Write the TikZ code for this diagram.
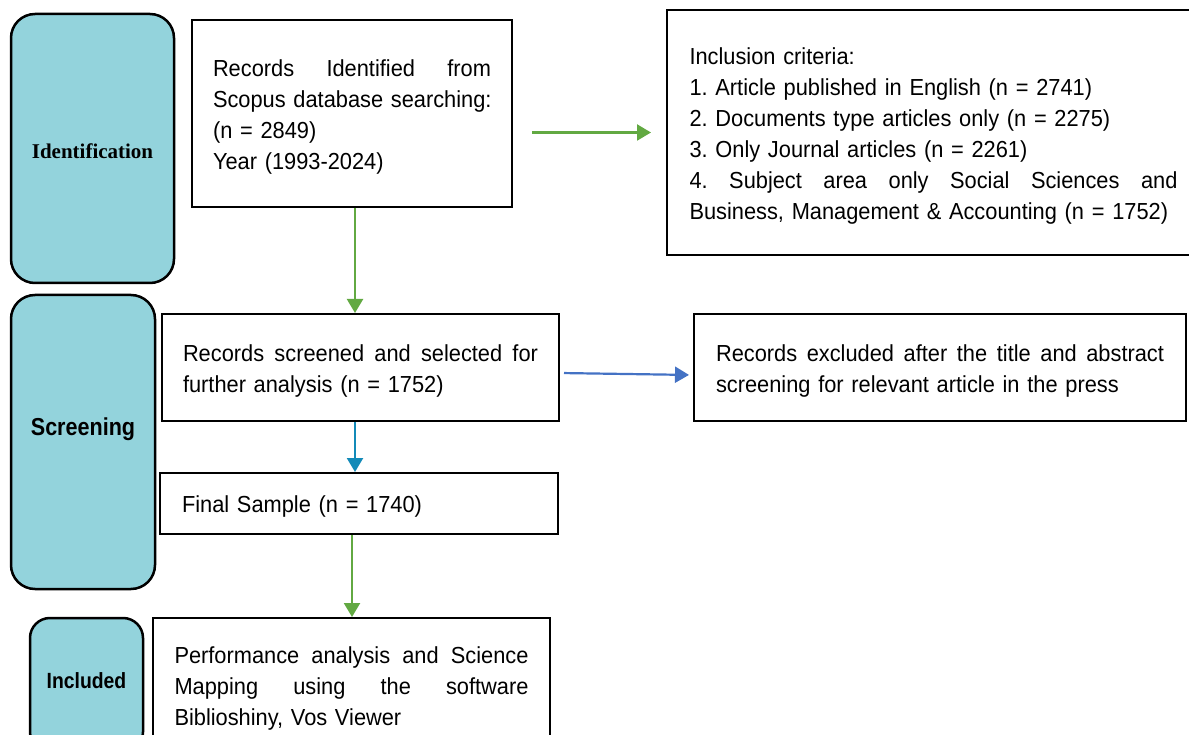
\documentclass[tikz,border=0pt]{standalone}
\usepackage{fontspec}
\setmainfont{Liberation Sans}[FakeStretch=0.94]
\newfontfamily\labelsans{Liberation Sans}[FakeStretch=0.88]
\newfontfamily\labelserif{Liberation Serif}
\usetikzlibrary{arrows.meta,calc}
\definecolor{tealfill}{HTML}{93D3DC}
\definecolor{arrgreen}{HTML}{62A942}
\definecolor{arrblue}{HTML}{4472C4}
\definecolor{arrteal}{HTML}{138AB8}
\newcommand{\jl}[2]{\leavevmode\hbox to #1{#2}}
\newcommand{\tstrut}{\rule{0pt}{23pt}}
\frenchspacing
\begin{document}
\begin{tikzpicture}[x=1pt,y=-1pt,
  txtbox/.style={draw=black, line width=2pt, fill=white, inner sep=0pt, align=left,
    font=\frenchspacing\fontsize{23.2}{31}\selectfont},
  stagebox/.style={draw=black, line width=2.5pt, fill=tealfill, rounded corners=24pt, inner sep=0pt},
  conn/.style={line width=2.2pt, -{Triangle[length=14pt,width=16pt]}},
  garrow/.style={conn, draw=arrgreen, fill=arrgreen},
  barrow/.style={conn, draw=arrblue, fill=arrblue},
  tarrow/.style={conn, draw=arrteal, fill=arrteal}]
\useasboundingbox (0,0) rectangle (1189,735);

% stage boxes
\node[stagebox, minimum width=163pt, minimum height=269pt] (idl) at (92.5,148.5) {};
\node[font=\labelserif\bfseries\fontsize{21}{24}\selectfont] (idltxt) at (92.5,151) {Identification};
\node[stagebox, minimum width=144pt, minimum height=294pt] (scl) at (83,442) {};
\node[font=\labelsans\bfseries\fontsize{24.5}{28}\selectfont] (scltxt) at (83,429) {Screening};
\node[stagebox, rounded corners=20pt, minimum width=113pt, minimum height=134pt] (inl) at (86.5,685) {};
\node[font=\labelsans\bfseries\fontsize{22}{26}\selectfont] (inltxt) at (86.5,681) {Included};

% text boxes
\node[txtbox, minimum width=320pt, minimum height=187pt, text width=278pt] (ri) at (352,113.5)
  {\tstrut\jl{278pt}{Records\hfill Identified\hfill from}\\ \mbox{Scopus database searching:}\\ (n = 2849)\\ Year (1993-2024)};
\node[txtbox, minimum width=533pt, minimum height=245pt, text width=488pt] (inc) at (933.5,132.5)
  {\tstrut Inclusion criteria:\\ \mbox{1. Article published in English (n = 2741)}\\ \mbox{2. Documents type articles only (n = 2275)}\\ \mbox{3. Only Journal articles (n = 2261)}\\ \jl{488pt}{4.\hfill Subject\hfill area\hfill only\hfill Social\hfill Sciences\hfill and}\\ \mbox{Business, Management \& Accounting (n = 1752)}};
\node[txtbox, minimum width=397pt, minimum height=107pt, text width=355pt] (rs) at (360.5,367.5)
  {\tstrut\jl{355pt}{Records\hfill screened\hfill and\hfill selected\hfill for}\\ \mbox{further analysis (n = 1752)}};
\node[txtbox, minimum width=492pt, minimum height=107pt, text width=448pt] (ex) at (940,367.5)
  {\tstrut\jl{448pt}{Records\hfill excluded\hfill after\hfill the\hfill title\hfill and\hfill abstract}\\ \mbox{screening for relevant article in the press}};
\node[txtbox, minimum width=398pt, minimum height=61pt, text width=354pt] (fs) at (359,503.5)
  {\tstrut\mbox{Final Sample (n = 1740)}};
\node[txtbox, minimum width=397pt, minimum height=134pt, text width=354pt] (pa) at (351.5,685)
  {\tstrut\jl{354pt}{Performance\hfill analysis\hfill and\hfill Science}\\ \jl{354pt}{Mapping\hfill using\hfill the\hfill software}\\ \mbox{Biblioshiny, Vos Viewer}};

% connectors
\draw[garrow] ($(ri.south)+(3,0)$) -- ($(rs.north)+(-5.5,0)$);
\draw[garrow, shorten <=19pt, shorten >=15pt] (ri.east |- inc.west) -- (inc.west);
\draw[barrow, shorten <=4pt, shorten >=4pt] ($(rs.east)+(0,5.5)$) -- ($(ex.west)+(0,7.5)$);
\draw[tarrow] ($(rs.south)+(-5.5,0)$) -- ($(fs.north)+(-4,0)$);
\draw[garrow] ($(fs.south)+(-7,0)$) -- ($(pa.north)+(0.5,0)$);
\end{tikzpicture}
\end{document}
